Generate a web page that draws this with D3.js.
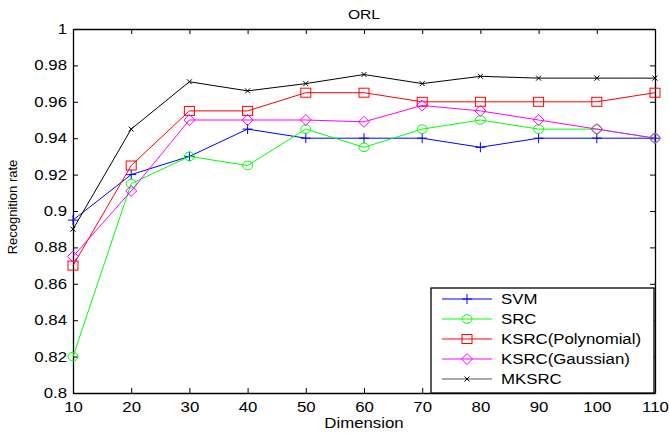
<!DOCTYPE html>
<html>
<head>
<style>
    body { margin: 0; background: #fff; }
    text { font-family: "Liberation Sans", Arial, sans-serif; fill: #000; }
    .tick text { font-size: 14px; }
</style>
</head>
<body>
<svg id="chart" width="669" height="436"></svg>
<script src="https://d3js.org/d3.v7.min.js"></script>
<script>
    const dims = [10, 20, 30, 40, 50, 60, 70, 80, 90, 100, 110];
    const yTicks = [0.8, 0.82, 0.84, 0.86, 0.88, 0.9, 0.92, 0.94, 0.96, 0.98, 1];
    const svm   = [0.895, 0.92, 0.93, 0.945, 0.94, 0.94, 0.94, 0.935, 0.94, 0.94, 0.94];
    const src   = [0.82, 0.915, 0.93, 0.925, 0.945, 0.935, 0.945, 0.95, 0.945, 0.945, 0.94];
    const ksrcP = [0.87, 0.925, 0.955, 0.955, 0.965, 0.965, 0.96, 0.96, 0.96, 0.96, 0.965];
    const ksrcG = [0.875, 0.911, 0.95, 0.95, 0.95, 0.949, 0.958, 0.955, 0.95, 0.945, 0.94];
    const mksrc = [0.89, 0.945, 0.971, 0.966, 0.97, 0.975, 0.97, 0.974, 0.973, 0.973, 0.973];

    const series = [
        {name: "SVM", values: svm, color: "#0000ff", marker: "plus"},
        {name: "SRC", values: src, color: "#00ff00", marker: "circle"},
        {name: "KSRC(Polynomial)", values: ksrcP, color: "#ff0000", marker: "square"},
        {name: "KSRC(Gaussian)", values: ksrcG, color: "#ff00ff", marker: "diamond"},
        {name: "MKSRC", values: mksrc, color: "#000000", marker: "cross"}
    ];

    const plotLeft = 73, plotRight = 655, plotTop = 29, plotBottom = 393;
    const svg = d3.select("#chart");

    // the source picture is a bit wider than tall, so text is stretched sideways
    function stretch(sel, k) {
        sel.each(function () {
            let w = this.getComputedTextLength();
            d3.select(this).attr("textLength", w * k).attr("lengthAdjust", "spacingAndGlyphs");
        });
    }

    let x = d3.scaleLinear().domain([10, 110]).range([plotLeft, plotRight]);
    let y = d3.scaleLinear().domain([0.8, 1]).range([plotBottom, plotTop]);

    // axes with inward ticks, box on all sides
    svg.append("g").attr("transform", "translate(0," + plotBottom + ")")
        .call(d3.axisBottom(x).tickValues(dims).tickSizeInner(-5).tickSizeOuter(0).tickPadding(9).tickFormat(d3.format("d")));
    svg.append("g").attr("transform", "translate(0," + plotTop + ")")
        .call(d3.axisTop(x).tickValues(dims).tickSizeInner(-5).tickSizeOuter(0).tickFormat(""));
    svg.append("g").attr("transform", "translate(" + plotLeft + ",0)")
        .call(d3.axisLeft(y).tickValues(yTicks).tickSizeInner(-5).tickSizeOuter(0).tickPadding(6).tickFormat(d => String(+d.toFixed(2))));
    svg.append("g").attr("transform", "translate(" + plotRight + ",0)")
        .call(d3.axisRight(y).tickValues(yTicks).tickSizeInner(-5).tickSizeOuter(0).tickFormat(""));
    svg.selectAll(".domain").attr("stroke", "#000").attr("stroke-width", 1.3);
    svg.selectAll(".tick line").attr("stroke", "#000");
    svg.selectAll(".tick text").attr("fill", "#000");
    stretch(svg.selectAll(".tick text").filter(function () { return this.textContent !== ""; }), 1.2);

    function drawMarker(g, type, color) {
        if (type === "plus") {
            g.append("path").attr("d", "M-5,0H5M0,-5V5").attr("stroke", color).attr("fill", "none");
        } else if (type === "circle") {
            g.append("ellipse").attr("rx", 5).attr("ry", 4.3).attr("stroke", color).attr("fill", "none");
        } else if (type === "square") {
            g.append("rect").attr("x", -5).attr("y", -4.5).attr("width", 10).attr("height", 9)
                .attr("stroke", color).attr("fill", "none");
        } else if (type === "diamond") {
            g.append("path").attr("d", "M0,-5.5L5.5,0L0,5.5L-5.5,0Z").attr("stroke", color).attr("fill", "none");
        } else {
            g.append("path").attr("d", "M-2.5,-2.5L2.5,2.5M-2.5,2.5L2.5,-2.5").attr("stroke", color).attr("fill", "none");
        }
    }

    let line = d3.line().x((d, i) => x(dims[i])).y(d => y(d));
    for (let s of series) {
        svg.append("path").datum(s.values).attr("d", line)
            .attr("fill", "none").attr("stroke", s.color).attr("stroke-width", 1);
        svg.append("g").selectAll("g").data(s.values).enter().append("g")
            .attr("transform", (d, i) => "translate(" + x(dims[i]) + "," + y(d) + ")")
            .each(function () { drawMarker(d3.select(this), s.marker, s.color); });
    }

    // legend
    let lg = svg.append("g");
    lg.append("rect").attr("x", 431).attr("y", 288).attr("width", 223).attr("height", 105)
        .attr("fill", "#fff").attr("stroke", "#000").attr("stroke-width", 1.3);
    series.forEach((s, i) => {
        let ly = 299 + i * 20;
        lg.append("line").attr("x1", 442).attr("x2", 492).attr("y1", ly).attr("y2", ly)
            .attr("stroke", s.name === "MKSRC" ? "#555" : s.color);
        drawMarker(lg.append("g").attr("transform", "translate(467," + ly + ")"), s.marker, s.color);
        lg.append("text").attr("x", 501).attr("y", ly + 5).attr("font-size", 14).text(s.name);
    });
    stretch(lg.selectAll("text"), 1.2);

    let title = svg.append("text").attr("x", (plotLeft + plotRight) / 2).attr("y", 19).attr("text-anchor", "middle")
        .attr("font-size", 13).text("ORL");
    let xlab = svg.append("text").attr("x", (plotLeft + plotRight) / 2).attr("y", 428).attr("text-anchor", "middle")
        .attr("font-size", 14).text("Dimension");
    stretch(title, 1.2);
    stretch(xlab, 1.2);
    svg.append("text").attr("transform", "translate(17,207) rotate(-90)")
        .attr("text-anchor", "middle").attr("font-size", 13).text("Recognition rate");
</script>
</body>
</html>
